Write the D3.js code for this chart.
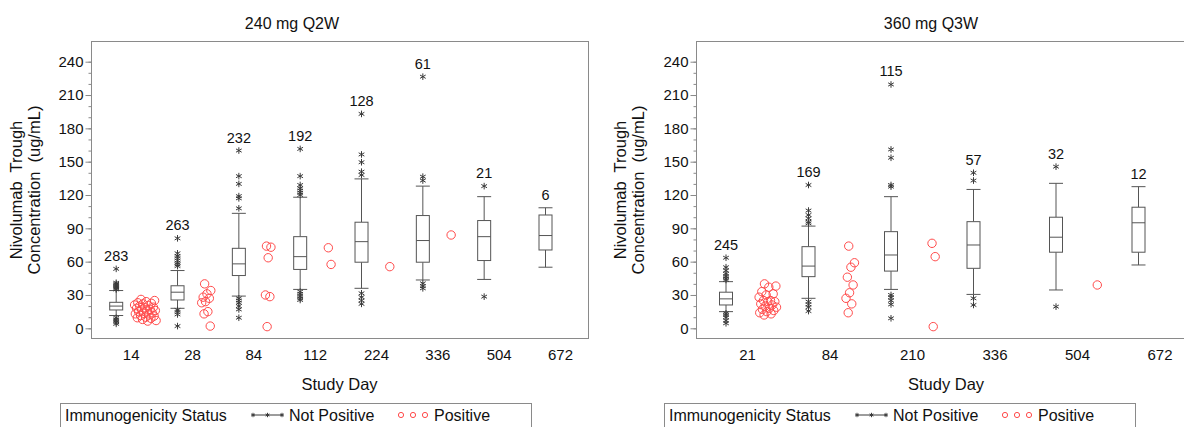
<!DOCTYPE html>
<html>
<head>
<meta charset="utf-8">
<script src="https://cdn.jsdelivr.net/npm/d3@7"></script>
<style>
  html, body { margin: 0; padding: 0; background: #fff; }
  svg { display: block; font-family: "Liberation Sans", Arial, sans-serif; }
</style>
</head>
<body>
<svg id="chart" width="1184" height="427"></svg>
<script>
// ---- 240 mg Q2W ----
const q2wDays      = ["14", "28", "84", "112", "224", "336", "504", "672"];
const q2wN         = [283, 263, 232, 192, 128, 61, 21, 6];
const q2wWhiskerLo = [11.5, 18, 29, 35, 36, 43.5, 44, 55];
const q2wQ1        = [16.5, 25.5, 47.5, 53, 59.5, 59.5, 61, 70.5];
const q2wMedian    = [20, 32.5, 58, 64.5, 78, 79, 82.5, 83.5];
const q2wQ3        = [23.4, 38.3, 72, 82.5, 95.5, 101.5, 97, 102];
const q2wWhiskerHi = [34, 52, 103.5, 118, 134.5, 128, 118.5, 108.5];
const q2wOutliers  = [
  [53.5, 41, 40, 39, 38, 37, 36, 35, 9.5, 8, 7, 5.5, 4],
  [81, 67.5, 65, 63, 61, 59, 57.5, 56, 16.5, 14.5, 12.5, 2],
  [160, 137, 130, 119, 117, 108, 27, 25, 23, 20, 17, 9.5],
  [161.5, 137, 129, 126, 124, 122, 120, 33, 31, 29, 27, 25.5],
  [193, 156.5, 149.5, 141, 138, 31.5, 28, 25, 22],
  [226.5, 136.5, 133, 40.5, 38, 36],
  [128, 28.5],
  []
];
const q2wPositive  = [
  [26, 25, 24, 23, 22.5, 22, 21, 20.5, 20, 19, 18.5, 18, 17, 16.5, 16, 15.5, 15, 14, 13.5, 13, 12, 11.5, 11, 10, 9.5, 9, 8, 7, 6.5],
  [40, 34, 31, 28, 27, 24, 23, 15, 13, 2],
  [74, 73, 63.5, 30, 28.5, 1.5],
  [72.5, 57.5],
  [55.5],
  [84],
  [],
  []
];

// ---- 360 mg Q3W ----
const q3wDays      = ["21", "84", "210", "336", "504", "672"];
const q3wN         = [245, 169, 115, 57, 32, 12];
const q3wWhiskerLo = [15, 27, 35, 30.5, 34.5, 57];
const q3wQ1        = [21, 46.5, 51.5, 54, 68.5, 68.5];
const q3wMedian    = [26.5, 56, 66, 75, 82, 95];
const q3wQ3        = [32.5, 73.5, 87, 96, 100, 109];
const q3wWhiskerHi = [42, 92, 118.5, 125, 130.5, 127.5];
const q3wOutliers  = [
  [63.5, 55, 52, 49, 47, 45, 43.5, 13.5, 12, 10, 7, 4.5],
  [129, 106, 102, 99, 96, 94.5, 24, 21.5, 19, 15.5],
  [219.5, 161, 153.5, 129, 127.5, 30, 28, 25, 21.5, 9],
  [140, 133, 27, 21],
  [145.5, 19.5],
  []
];
const q3wPositive  = [
  [40, 38, 37, 33, 31, 30, 28, 25, 25, 24, 24, 22, 21, 20, 19, 18, 17, 16, 15, 14, 13, 12],
  [74, 59, 55, 46, 39, 32, 27, 22, 14],
  [76.5, 64.5, 1.5],
  [],
  [39],
  []
];

const yTicks = [0, 30, 60, 90, 120, 150, 180, 210, 240];
const groups = ["Not Positive", "Positive"];

const panels = [
  { title: "240 mg Q2W", days: q2wDays, n: q2wN, lo: q2wWhiskerLo, q1: q2wQ1, med: q2wMedian,
    q3: q2wQ3, hi: q2wWhiskerHi, out: q2wOutliers, pos: q2wPositive,
    left: 91, right: 588, xFirst: 130.7, xLast: 560, groupOffset: 14.5, titleX: 292, labelX: 339.5, dx: 0 },
  { title: "360 mg Q3W", days: q3wDays, n: q3wN, lo: q3wWhiskerLo, q1: q3wQ1, med: q3wMedian,
    q3: q3wQ3, hi: q3wWhiskerHi, out: q3wOutliers, pos: q3wPositive,
    left: 696, right: 1209, xFirst: 747, xLast: 1159.5, groupOffset: 21, titleX: 931, labelX: 946, dx: 604 }
];

const TOP = 41, BOTTOM = 338;
const svg = d3.select("#chart");
const FRAME = "#8a8a8a", BOXC = "#555", STAR = "#3a3a3a", RED = "#ff4a4a";

const y = d3.scaleLinear().domain([0, 240]).range([328.3, 61.7]);

// asterisk marker
function starPath(s) {
  const a = s * 0.866, b = s * 0.5;
  return `M0,${-s}L0,${s}M${-a},${-b}L${a},${b}M${-a},${b}L${a},${-b}`;
}

// deterministic spread for the positive-status points
function spread(i, n) {
  const amp = Math.min(11, 1.5 + n * 0.35);
  const f = ((i + 0.5) * 0.6180339887) % 1;
  return (f * 2 - 1) * amp;
}

panels.forEach(p => {
  const g = svg.append("g");
  const x = d3.scalePoint().domain(p.days).range([p.xFirst, p.xLast]);
  const gx = d3.scalePoint().domain(groups).range([-p.groupOffset, p.groupOffset]);

  // title
  g.append("text").attr("x", p.titleX).attr("y", 29).attr("text-anchor", "middle")
    .attr("font-size", 16).attr("fill", "#111").text(p.title);

  // frame
  g.append("rect").attr("x", p.left + 0.5).attr("y", TOP + 0.5)
    .attr("width", p.right - p.left).attr("height", BOTTOM - TOP)
    .attr("fill", "none").attr("stroke", FRAME).attr("stroke-width", 1);

  // y axis minor + major ticks
  const minor = g.append("g").attr("transform", `translate(${p.left + 0.5},0)`)
    .call(d3.axisLeft(y).tickValues(d3.range(0, 250, 10)).tickSize(3).tickFormat(""));
  minor.select(".domain").remove();
  minor.selectAll("line").attr("stroke", FRAME);

  const yAx = g.append("g").attr("transform", `translate(${p.left + 0.5},0)`)
    .call(d3.axisLeft(y).tickValues(yTicks).tickSize(6).tickPadding(2));
  yAx.select(".domain").remove();
  yAx.selectAll("line").attr("stroke", FRAME);
  yAx.selectAll("text").attr("font-size", 15).attr("fill", "#111")
    .attr("font-family", "'Liberation Sans', Arial, sans-serif");

  // x axis labels
  const xAx = g.append("g").attr("transform", `translate(0,${BOTTOM})`)
    .call(d3.axisBottom(x).tickSize(0).tickPadding(11));
  xAx.select(".domain").remove();
  xAx.selectAll("text").attr("font-size", 15).attr("fill", "#111")
    .attr("font-family", "'Liberation Sans', Arial, sans-serif");

  // axis titles
  g.append("text").attr("x", p.labelX)
    .attr("y", 390).attr("text-anchor", "middle").attr("font-size", 16.5).attr("fill", "#111")
    .text("Study Day");
  const yl = g.append("text").attr("transform", `translate(0,190) rotate(-90)`)
    .attr("text-anchor", "middle").attr("font-size", 16.5).attr("fill", "#111");
  yl.append("tspan").attr("x", 0).attr("y", 22 + p.dx).attr("xml:space", "preserve").text("Nivolumab  Trough");
  yl.append("tspan").attr("x", 0).attr("y", 40 + p.dx).attr("xml:space", "preserve").text("Concentration  (ug/mL)");

  // boxes
  const BW = 13, CAP = 14;
  p.days.forEach((d, i) => {
    const cx = x(d) + gx("Not Positive");
    const bg = g.append("g").attr("stroke", BOXC).attr("stroke-width", 1).attr("fill", "none");
    bg.append("line").attr("x1", cx).attr("x2", cx).attr("y1", y(p.hi[i])).attr("y2", y(p.q3[i]));
    bg.append("line").attr("x1", cx).attr("x2", cx).attr("y1", y(p.q1[i])).attr("y2", y(p.lo[i]));
    bg.append("line").attr("x1", cx - CAP / 2).attr("x2", cx + CAP / 2).attr("y1", y(p.hi[i])).attr("y2", y(p.hi[i]));
    bg.append("line").attr("x1", cx - CAP / 2).attr("x2", cx + CAP / 2).attr("y1", y(p.lo[i])).attr("y2", y(p.lo[i]));
    bg.append("rect").attr("x", cx - BW / 2).attr("width", BW)
      .attr("y", y(p.q3[i])).attr("height", y(p.q1[i]) - y(p.q3[i])).attr("fill", "#fff");
    bg.append("line").attr("x1", cx - BW / 2).attr("x2", cx + BW / 2).attr("y1", y(p.med[i])).attr("y2", y(p.med[i]));

    // outliers
    g.append("g").selectAll("path").data(p.out[i]).join("path")
      .attr("transform", v => `translate(${cx},${y(v)})`)
      .attr("d", starPath(3.3)).attr("stroke", STAR).attr("stroke-width", 1).attr("fill", "none");

    // subject count above the highest value
    const top = d3.max([p.hi[i], ...p.out[i]]);
    g.append("text").attr("x", cx).attr("y", y(top) - 8).attr("text-anchor", "middle")
      .attr("font-size", 14.5).attr("fill", "#111").text(p.n[i]);

    // positive-status points
    const px = x(d) + gx("Positive");
    const pts = p.pos[i];
    g.append("g").selectAll("circle").data(pts).join("circle")
      .attr("cx", (v, j) => px + spread(j, pts.length)).attr("cy", v => y(v)).attr("r", 4.2)
      .attr("fill", "none").attr("stroke", RED).attr("stroke-width", 1);
  });

  // legend
  const L = p.left - 31 + (p.dx ? -1 : 0);
  const lg = g.append("g").attr("transform", `translate(${L},0)`);
  lg.append("rect").attr("x", 0.5).attr("y", 403.5).attr("width", 471).attr("height", 40)
    .attr("fill", "none").attr("stroke", FRAME);
  lg.append("text").attr("x", 5).attr("y", 421).attr("font-size", 16).attr("fill", "#111")
    .text("Immunogenicity Status");
  lg.append("line").attr("x1", 193).attr("x2", 222).attr("y1", 415).attr("y2", 415)
    .attr("stroke", STAR);
  [193, 207.5, 222].forEach(sx => lg.append("path").attr("transform", `translate(${sx},415)`)
    .attr("d", starPath(2.2)).attr("stroke", STAR).attr("fill", "none"));
  lg.append("text").attr("x", 229).attr("y", 421).attr("font-size", 16).attr("fill", "#111")
    .text("Not Positive");
  [341, 353, 365].forEach(sx => lg.append("circle").attr("cx", sx).attr("cy", 415).attr("r", 2.6)
    .attr("fill", "none").attr("stroke", RED));
  lg.append("text").attr("x", 374).attr("y", 421).attr("font-size", 16).attr("fill", "#111")
    .text("Positive");
});
</script>
</body>
</html>
